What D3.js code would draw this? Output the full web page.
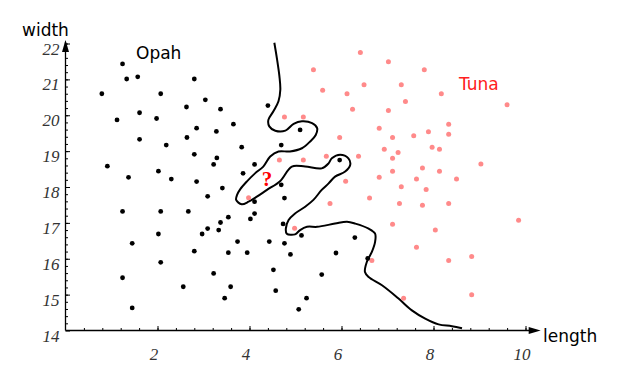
<html>
<head>
<script src="https://d3js.org/d3.v7.min.js"></script>
<style>
  body { margin: 0; background: white; }
  svg { display: block; background: white; }
  .label { font-family: "DejaVu Sans", sans-serif; font-size: 17px; }
  .axis text { font-family: "Liberation Serif", serif; font-style: italic; font-size: 17px; fill: #333; }
  .axis line { stroke: black; stroke-width: 1px; }
</style>
</head>
<body>
<svg id="chart" width="620" height="370"></svg>
<script>

// opah samples [length, width]
const opah = [
  [1.24,21.43],[1.33,21.01],[1.57,21.07],[2.80,21.01],[0.79,20.60],[2.07,20.60],
  [3.04,20.43],[2.63,20.23],[3.37,20.17],[1.61,20.07],[1.12,19.87],[1.98,19.91],
  [4.40,20.27],[3.65,19.75],[2.85,19.64],[3.28,19.55],[1.61,19.33],[2.64,19.38],
  [2.19,19.17],[3.83,19.11],[2.80,18.91],[3.29,18.81],[3.22,18.63],[4.11,18.63],
  [0.91,18.58],[2.02,18.44],[3.86,18.38],[1.37,18.27],[2.30,18.22],[2.85,18.15],
  [3.41,17.97],[3.09,17.74],[1.24,17.32],[2.07,17.32],[2.67,17.32],[3.54,17.16],
  [3.37,17.01],[3.09,16.84],[3.33,16.80],[2.97,16.69],[2.02,16.69],[1.45,16.43],
  [3.74,16.48],[4.43,16.48],[2.80,16.21],[3.54,16.17],[3.95,16.17],[2.07,15.90],
  [4.52,15.69],[3.22,15.59],[1.24,15.47],[2.56,15.22],[3.59,15.22],[4.57,15.11],
  [3.46,14.90],[1.45,14.63],[4.11,17.59],[4.11,17.26],[4.02,17.11],[5.10,19.59],
  [4.69,19.17],[5.96,18.75],[4.69,18.06],[4.76,17.69],[4.73,16.97],[5.13,16.65],
  [4.76,16.43],[4.89,16.12],[6.29,16.59],[5.88,16.16],[6.57,16.01],[5.57,15.56],
  [5.24,14.90],[5.07,14.59]
];

// tuna samples [length, width]
const tuna = [
  [6.41,21.75],[7.02,21.49],[5.39,21.27],[7.80,21.27],[5.59,20.70],[6.49,20.85],
  [7.30,20.85],[6.12,20.60],[8.17,20.60],[7.39,20.38],[6.24,20.17],[7.02,20.13],
  [9.60,20.29],[4.76,19.95],[5.17,19.95],[8.33,19.75],[6.82,19.64],[7.89,19.54],
  [8.33,19.47],[7.57,19.43],[7.11,19.38],[5.96,19.38],[7.97,19.11],[8.13,19.05],
  [6.93,19.05],[7.23,18.96],[7.11,18.80],[4.65,18.75],[5.17,18.75],[5.67,18.86],
  [6.37,18.86],[9.03,18.64],[7.76,18.53],[7.11,18.44],[8.13,18.44],[6.82,18.27],
  [7.63,18.22],[8.50,18.22],[6.09,18.16],[7.30,18.01],[7.84,17.93],[5.75,17.54],
  [6.61,17.69],[7.26,17.54],[7.76,17.49],[8.33,17.54],[7.11,16.96],[8.04,16.80],
  [9.85,17.07],[4.98,16.85],[7.63,16.32],[8.33,15.95],[8.83,16.06],[6.66,15.95],
  [7.35,14.90],[8.83,15.00],[3.98,17.70]
];

// the unclassified sample
const unknown = [[4.38, 18.22]];

// decision boundary
const boundary = [
  [4.54,22.02],[4.60,21.55],[4.65,21.09],[4.67,20.71],[4.63,20.39],[4.52,20.11],
  [4.41,19.87],[4.43,19.69],[4.56,19.57],[4.78,19.57],[4.96,19.76],[5.14,19.83],
  [5.36,19.78],[5.47,19.64],[5.44,19.45],[5.32,19.27],[5.14,19.08],[4.88,18.99],
  [4.63,18.99],[4.45,18.85],[4.30,18.57],[4.12,18.38],[3.94,18.15],[3.80,17.94],
  [3.73,17.78],[3.71,17.64],[3.83,17.52],[3.98,17.59],[4.16,17.73],[4.38,17.92],
  [4.67,18.17],[4.92,18.57],[5.21,18.57],[5.57,18.52],[5.72,18.66],[5.79,18.80],
  [5.97,18.90],[6.15,18.80],[6.19,18.62],[6.08,18.43],[5.86,18.29],[5.72,18.10],
  [5.57,17.92],[5.39,17.64],[5.21,17.45],[4.99,17.26],[4.85,17.08],[4.79,16.84],
  [4.81,16.70],[4.99,16.68],[5.10,16.80],[5.25,16.89],[5.47,16.89],[5.86,16.98],
  [6.12,17.03],[6.30,16.98],[6.59,16.84],[6.73,16.70],[6.73,16.47],[6.66,16.19],
  [6.55,15.91],[6.51,15.63],[6.59,15.49],[6.88,15.26],[7.24,14.89],[7.53,14.56],
  [7.82,14.33],[8.11,14.17],[8.40,14.12],[8.62,14.06]
];

const xTickValues = [2, 4, 6, 8, 10];
const yTickValues = [14, 15, 16, 17, 18, 19, 20, 21, 22];

const svg = d3.select("#chart");

const x = d3.scaleLinear().domain([0, 10]).range([65.5, 525.5]);
const y = d3.scaleLinear().domain([14, 22]).range([330.5, 43.5]);

// minor ticks
svg.append("g")
    .attr("class", "axis")
    .attr("transform", "translate(0,330.5)")
    .call(d3.axisBottom(x).tickValues(d3.range(0.4, 10.01, 0.4)).tickSize(-2.5).tickFormat(""))
    .call(g => g.select(".domain").remove());

svg.append("g")
    .attr("class", "axis")
    .attr("transform", "translate(65.5,0)")
    .call(d3.axisLeft(y).tickValues(d3.range(14.2, 22.01, 0.2)).tickSize(-2.5).tickFormat(""))
    .call(g => g.select(".domain").remove());

// major ticks + labels
const xAxis = svg.append("g")
    .attr("class", "axis")
    .attr("transform", "translate(0,330.5)")
    .call(d3.axisBottom(x).tickValues(xTickValues).tickSize(-4.5).tickPadding(18))
    .call(g => g.select(".domain").remove());
xAxis.selectAll("text").attr("dx", -4).attr("dy", 0).attr("y", 29);

const yAxis = svg.append("g")
    .attr("class", "axis")
    .attr("transform", "translate(65.5,0)")
    .call(d3.axisLeft(y).tickValues(yTickValues).tickSize(-4.5).tickPadding(6))
    .call(g => g.select(".domain").remove());
yAxis.selectAll("text").attr("dy", "0.62em").attr("x", -6);

// axis lines with arrows
svg.append("line")
    .attr("x1", x(0)).attr("y1", y(14))
    .attr("x2", x(10.18)).attr("y2", y(14))
    .attr("stroke", "black").attr("stroke-width", 1.3);
svg.append("path")
    .attr("d", `M${x(10.33)},${y(14)} L${x(10.33) - 12},${y(14) - 3.5} L${x(10.33) - 12},${y(14) + 3.5} Z`)
    .attr("fill", "black");

svg.append("line")
    .attr("x1", x(0)).attr("y1", y(14))
    .attr("x2", x(0)).attr("y2", y(22.05))
    .attr("stroke", "black").attr("stroke-width", 1.3);
svg.append("path")
    .attr("d", `M${x(0)},${y(22.1)} L${x(0) - 3.5},${y(22.1) + 12} L${x(0) + 3.5},${y(22.1) + 12} Z`)
    .attr("fill", "black");

// axis titles and class names
svg.append("text").attr("class", "label").attr("x", 22).attr("y", 36).text("width");
svg.append("text").attr("class", "label").attr("x", 543).attr("y", 342).text("length");
svg.append("text").attr("class", "label").attr("x", 136).attr("y", 59).text("Opah");
svg.append("text").attr("class", "label").attr("x", 459).attr("y", 90)
    .attr("fill", "#ff2020").text("Tuna");

// boundary
const line = d3.line()
    .x(d => x(d[0]))
    .y(d => y(d[1]))
    .curve(d3.curveCatmullRom);

svg.append("path")
    .datum(boundary)
    .attr("d", line)
    .attr("fill", "none")
    .attr("stroke", "black")
    .attr("stroke-width", 2);

// samples
svg.append("g").selectAll("circle")
    .data(tuna)
    .join("circle")
    .attr("cx", d => x(d[0]))
    .attr("cy", d => y(d[1]))
    .attr("r", 2.5)
    .attr("fill", "#ff8a8a");

svg.append("g").selectAll("circle")
    .data(opah)
    .join("circle")
    .attr("cx", d => x(d[0]))
    .attr("cy", d => y(d[1]))
    .attr("r", 2.4)
    .attr("fill", "black");

svg.append("g").selectAll("text")
    .data(unknown)
    .join("text")
    .attr("x", d => x(d[0]))
    .attr("y", d => y(d[1]) + 7)
    .attr("text-anchor", "middle")
    .attr("font-family", "Liberation Serif, serif")
    .attr("font-weight", "bold")
    .attr("font-size", 21)
    .attr("fill", "red")
    .text("?");

</script>
</body>
</html>
